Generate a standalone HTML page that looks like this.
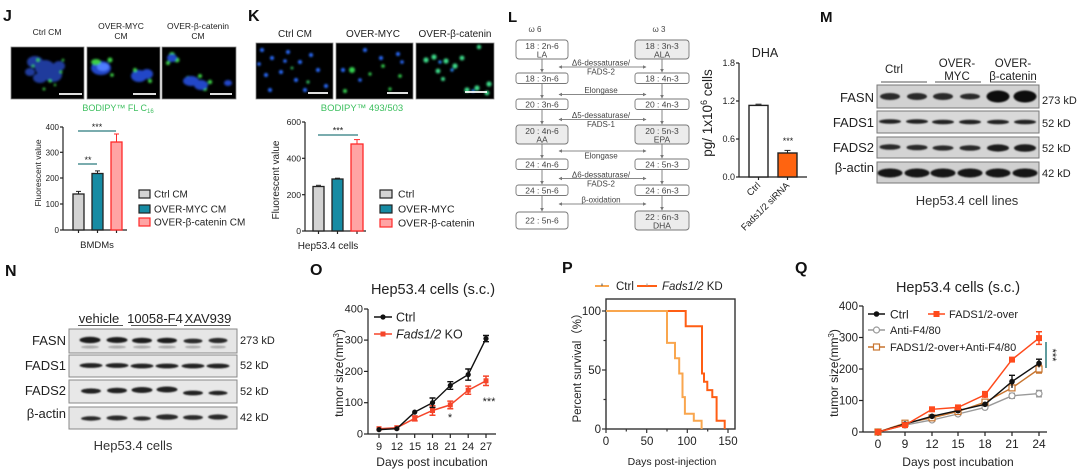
<!DOCTYPE html>
<html><head><meta charset="utf-8">
<style>
html,body{margin:0;padding:0;background:#fff;}
svg{display:block;font-family:"Liberation Sans","Noto Sans CJK SC",sans-serif;}
</style></head><body>
<svg width="1080" height="472" viewBox="0 0 1080 472" xmlns="http://www.w3.org/2000/svg">
<defs>
<filter id="bl" x="-50%" y="-50%" width="200%" height="200%"><feGaussianBlur stdDeviation="1.1"/></filter>
<filter id="bb" x="-30%" y="-100%" width="160%" height="300%"><feGaussianBlur stdDeviation="0.9"/></filter>
<marker id="ah" viewBox="0 0 6 6" refX="5" refY="3" markerWidth="4" markerHeight="4" orient="auto-start-reverse"><path d="M0,0 L6,3 L0,6 z" fill="#777"/></marker>
</defs>
<rect width="1080" height="472" fill="#fff"/>

<!-- ================= J ================= -->
<text x="3" y="21" font-size="16" font-weight="bold" fill="#111">J</text>
<g font-size="8.5" fill="#222" text-anchor="middle">
<text x="47" y="35">Ctrl  CM</text>
<text x="121" y="29">OVER-MYC</text><text x="121" y="39">CM</text>
<text x="198" y="29">OVER-β-catenin</text><text x="198" y="39">CM</text>
</g>
<rect x="11" y="47" width="73" height="52" fill="#000" stroke="#888" stroke-width="0.8"/>
<rect x="87" y="47" width="73" height="52" fill="#000" stroke="#888" stroke-width="0.8"/>
<rect x="162" y="47" width="74" height="52" fill="#000" stroke="#888" stroke-width="0.8"/>
<g filter="url(#bl)">
 <g fill="#2446b8" opacity="0.85">
  <ellipse cx="35" cy="62" rx="8" ry="6"/><ellipse cx="45" cy="68" rx="10" ry="8"/><ellipse cx="53" cy="75" rx="9" ry="7"/>
  <ellipse cx="40" cy="78" rx="7" ry="5"/><ellipse cx="59" cy="66" rx="6" ry="5"/><ellipse cx="30" cy="72" rx="5" ry="4"/>
 </g>
 <g fill="#3ccf44">
  <circle cx="38" cy="60" r="1.6"/><circle cx="50" cy="81" r="1.6"/><circle cx="61" cy="72" r="1.4"/><circle cx="44" cy="89" r="1.4"/>
  <circle cx="33" cy="66" r="1.3"/><circle cx="63" cy="60" r="1.3"/><circle cx="55" cy="85" r="1.2"/>
 </g>
 <g fill="#2446c8"><ellipse cx="101" cy="68" rx="10" ry="7"/><ellipse cx="139" cy="76" rx="8" ry="6"/><ellipse cx="147" cy="74" rx="6" ry="5"/></g>
 <ellipse cx="103" cy="67" rx="6" ry="4" fill="#4f7dff"/>
 <g fill="#3ccf44"><ellipse cx="96" cy="62" rx="5" ry="3"/><circle cx="110" cy="60" r="2.5"/><circle cx="135" cy="70" r="2"/><circle cx="150" cy="81" r="2"/><circle cx="112" cy="75" r="1.8"/></g>
 <g fill="#3ccf44"><circle cx="172" cy="55" r="3"/><circle cx="177" cy="60" r="2.5"/><circle cx="168" cy="63" r="2"/><circle cx="188" cy="78" r="2"/><circle cx="200" cy="76" r="2"/><circle cx="210" cy="82" r="2.2"/><circle cx="205" cy="89" r="2"/></g>
 <g fill="#2446c8"><ellipse cx="172" cy="58" rx="5" ry="4"/><ellipse cx="191" cy="81" rx="8" ry="5"/><ellipse cx="201" cy="85" rx="7" ry="5"/><ellipse cx="228" cy="83" rx="4" ry="3"/></g>
</g>
<g stroke="#fff" stroke-width="1.8">
<line x1="59" y1="94" x2="82" y2="94"/><line x1="133" y1="94" x2="156" y2="94"/><line x1="210" y1="94" x2="232" y2="94"/>
</g>
<text x="118" y="111" font-size="9" fill="#3cbf5e" text-anchor="middle">BODIPY™ FL C<tspan font-size="6" dy="2">16</tspan></text>
<!-- J chart -->
<g stroke="#222" stroke-width="1.2" fill="none">
<line x1="63" y1="127" x2="63" y2="230"/><line x1="63" y1="230" x2="127" y2="230"/>
<line x1="60" y1="127" x2="63" y2="127"/><line x1="60" y1="152.3" x2="63" y2="152.3"/><line x1="60" y1="178" x2="63" y2="178"/><line x1="60" y1="204" x2="63" y2="204"/><line x1="60" y1="230" x2="63" y2="230"/>
<line x1="78.5" y1="230" x2="78.5" y2="233"/><line x1="97.5" y1="230" x2="97.5" y2="233"/><line x1="116.5" y1="230" x2="116.5" y2="233"/>
</g>
<g font-size="8" fill="#222" text-anchor="end">
<text x="59" y="130">400</text><text x="59" y="155.5">300</text><text x="59" y="181">200</text><text x="59" y="207">100</text><text x="59" y="233">0</text>
</g>
<text transform="translate(41,173) rotate(-90)" font-size="8.5" fill="#222" text-anchor="middle">Fluorescent value</text>
<rect x="73" y="194" width="11" height="36" fill="#d3d3d3" stroke="#222" stroke-width="1.3"/>
<rect x="92" y="173.5" width="11" height="56.5" fill="#168ba3" stroke="#222" stroke-width="1.3"/>
<rect x="111" y="142" width="11" height="88" fill="#ffa4a4" stroke="#ff2a2a" stroke-width="1.3"/>
<g stroke="#222" stroke-width="1"><line x1="78.5" y1="194" x2="78.5" y2="191.4"/><line x1="76" y1="191.4" x2="81" y2="191.4"/>
<line x1="97.5" y1="173.5" x2="97.5" y2="170.9"/><line x1="95" y1="170.9" x2="100" y2="170.9"/></g>
<g stroke="#ff2a2a" stroke-width="1"><line x1="116.5" y1="142" x2="116.5" y2="134"/><line x1="114" y1="134" x2="119" y2="134"/></g>
<g stroke="#2b7a7e" stroke-width="1.2"><line x1="78" y1="131" x2="116" y2="131"/><line x1="78" y1="164" x2="97" y2="164"/></g>
<g font-size="9" fill="#222" text-anchor="middle"><text x="97" y="130">***</text><text x="88" y="163">**</text></g>
<rect x="139" y="190" width="11" height="8" fill="#d3d3d3" stroke="#222" stroke-width="1.2"/>
<rect x="139" y="205" width="11" height="8" fill="#168ba3" stroke="#222" stroke-width="1.2"/>
<rect x="139" y="218" width="11" height="8" fill="#ffa4a4" stroke="#ff2a2a" stroke-width="1.2"/>
<g font-size="10" fill="#222"><text x="154" y="197.5">Ctrl CM</text><text x="154" y="212.5">OVER-MYC CM</text><text x="154" y="225.5">OVER-β-catenin CM</text></g>
<text x="97" y="248" font-size="9.5" fill="#222" text-anchor="middle">BMDMs</text>

<!-- ================= K ================= -->
<text x="248" y="21" font-size="16" font-weight="bold" fill="#111">K</text>
<g font-size="10" fill="#222" text-anchor="middle">
<text x="295" y="37">Ctrl  CM</text><text x="373" y="37">OVER-MYC</text><text x="455" y="37">OVER-β-catenin</text>
</g>
<rect x="256" y="43" width="77" height="56" fill="#000" stroke="#888" stroke-width="0.8"/>
<rect x="336" y="43" width="77" height="56" fill="#000" stroke="#888" stroke-width="0.8"/>
<rect x="416" y="43" width="78" height="56" fill="#000" stroke="#888" stroke-width="0.8"/>
<g filter="url(#bl)">
 <g fill="#2a6cff">
  <circle cx="262" cy="50" r="2"/><circle cx="272" cy="58" r="2"/><circle cx="288" cy="52" r="2"/><circle cx="300" cy="62" r="2"/><circle cx="311" cy="55" r="2"/>
  <circle cx="266" cy="75" r="2"/><circle cx="281" cy="72" r="2"/><circle cx="296" cy="80" r="2"/><circle cx="318" cy="70" r="2"/><circle cx="270" cy="90" r="2"/>
  <circle cx="305" cy="90" r="2"/><circle cx="326" cy="86" r="2"/><circle cx="285" cy="61" r="1.8"/><circle cx="259" cy="64" r="1.8"/>
 </g>
 <g fill="#35c060"><circle cx="308" cy="82" r="1.6"/><circle cx="292" cy="68" r="1.4"/></g>
 <g fill="#2a6cff"><circle cx="365" cy="50" r="2"/><circle cx="381" cy="58" r="2"/><circle cx="398" cy="54" r="2"/><circle cx="343" cy="70" r="2"/><circle cx="360" cy="80" r="1.8"/><circle cx="402" cy="62" r="1.8"/></g>
 <g fill="#35d050"><circle cx="352" cy="70" r="3"/><circle cx="383" cy="66" r="1.8"/><circle cx="400" cy="76" r="1.8"/><circle cx="345" cy="91" r="2"/><circle cx="370" cy="74" r="1.6"/><circle cx="390" cy="89" r="1.6"/></g>
 <g fill="#3ddc8a">
  <circle cx="426" cy="60" r="2.6"/><circle cx="434" cy="57" r="2.6"/><circle cx="446" cy="61" r="2.6"/><circle cx="455" cy="66" r="2.6"/><circle cx="438" cy="71" r="2.4"/>
  <circle cx="462" cy="58" r="2.4"/><circle cx="479" cy="47" r="2.2"/><circle cx="467" cy="90" r="2.6"/><circle cx="477" cy="88" r="2.6"/><circle cx="489" cy="84" r="2.6"/><circle cx="487" cy="93" r="2.4"/><circle cx="443" cy="79" r="2"/>
 </g>
 <g fill="#2a8cff"><circle cx="440" cy="62" r="1.6"/><circle cx="452" cy="70" r="1.6"/><circle cx="473" cy="91" r="1.6"/></g>
</g>
<g stroke="#fff" stroke-width="1.8">
<line x1="308" y1="93" x2="328" y2="93"/><line x1="387" y1="93" x2="408" y2="93"/><line x1="465" y1="92" x2="487" y2="92"/>
</g>
<text x="362" y="111" font-size="9.5" fill="#3cbf5e" text-anchor="middle">BODIPY™ 493/503</text>
<g stroke="#222" stroke-width="1.2" fill="none">
<line x1="305" y1="122" x2="305" y2="231"/><line x1="305" y1="231" x2="366" y2="231"/>
<line x1="302" y1="122" x2="305" y2="122"/><line x1="302" y1="158.3" x2="305" y2="158.3"/><line x1="302" y1="194.7" x2="305" y2="194.7"/><line x1="302" y1="231" x2="305" y2="231"/>
<line x1="318.5" y1="231" x2="318.5" y2="234"/><line x1="337.5" y1="231" x2="337.5" y2="234"/><line x1="357" y1="231" x2="357" y2="234"/>
</g>
<g font-size="8.6" fill="#222" text-anchor="end">
<text x="301" y="125">600</text><text x="301" y="161.5">400</text><text x="301" y="198">200</text><text x="301" y="234">0</text>
</g>
<text transform="translate(279,180) rotate(-90)" font-size="10" fill="#222" text-anchor="middle">Fluorescent value</text>
<rect x="313" y="186.5" width="11" height="44.5" fill="#d3d3d3" stroke="#222" stroke-width="1.3"/>
<rect x="332" y="179" width="11" height="52" fill="#168ba3" stroke="#222" stroke-width="1.3"/>
<rect x="351" y="144" width="12" height="87" fill="#ffa4a4" stroke="#ff2a2a" stroke-width="1.3"/>
<g stroke="#222" stroke-width="1"><line x1="316" y1="185.3" x2="321" y2="185.3"/><line x1="335" y1="178.2" x2="340" y2="178.2"/></g>
<g stroke="#ff2a2a" stroke-width="1"><line x1="357" y1="144" x2="357" y2="139.6"/><line x1="354" y1="139.6" x2="360" y2="139.6"/></g>
<line x1="318" y1="135" x2="358" y2="135" stroke="#2b7a7e" stroke-width="1.2"/>
<text x="338" y="133.5" font-size="9" fill="#222" text-anchor="middle">***</text>
<rect x="380" y="190" width="12" height="8" fill="#d3d3d3" stroke="#222" stroke-width="1.2"/>
<rect x="380" y="205" width="12" height="8" fill="#168ba3" stroke="#222" stroke-width="1.2"/>
<rect x="380" y="219" width="12" height="8" fill="#ffa4a4" stroke="#ff2a2a" stroke-width="1.2"/>
<g font-size="10.5" fill="#222"><text x="398" y="197.5">Ctrl</text><text x="398" y="212.5">OVER-MYC</text><text x="398" y="226.5">OVER-β-catenin</text></g>
<text x="328" y="249" font-size="10" fill="#222" text-anchor="middle">Hep53.4 cells</text>

<!-- ================= L ================= -->
<text x="508" y="22" font-size="15" font-weight="bold" fill="#111">L</text>
<g font-size="8" fill="#444" text-anchor="middle"><text x="535" y="32">ω 6</text><text x="659" y="32">ω 3</text></g>
<g stroke="#777" stroke-width="0.9">
 <rect x="516" y="40" width="52" height="19" rx="3" fill="#fff"/>
 <rect x="516" y="73" width="52" height="10.5" rx="2.5" fill="#fff"/>
 <rect x="516" y="99" width="52" height="10.5" rx="2.5" fill="#fff"/>
 <rect x="516" y="125" width="52" height="19" rx="3" fill="#ececec"/>
 <rect x="516" y="159" width="52" height="10.5" rx="2.5" fill="#fff"/>
 <rect x="516" y="185" width="52" height="10.5" rx="2.5" fill="#fff"/>
 <rect x="516" y="212" width="52" height="17" rx="3" fill="#fff"/>
 <rect x="635" y="40" width="54" height="19" rx="3" fill="#ececec"/>
 <rect x="635" y="73" width="54" height="10.5" rx="2.5" fill="#fff"/>
 <rect x="635" y="99" width="54" height="10.5" rx="2.5" fill="#fff"/>
 <rect x="635" y="125" width="54" height="19" rx="3" fill="#ececec"/>
 <rect x="635" y="159" width="54" height="10.5" rx="2.5" fill="#fff"/>
 <rect x="635" y="185" width="54" height="10.5" rx="2.5" fill="#fff"/>
 <rect x="635" y="211" width="54" height="19" rx="3" fill="#ececec"/>
</g>
<g font-size="8.5" fill="#444" text-anchor="middle">
 <text x="542" y="49">18 : 2n-6</text><text x="542" y="57.5">LA</text>
 <text x="542" y="81.5">18 : 3n-6</text>
 <text x="542" y="107.5">20 : 3n-6</text>
 <text x="542" y="134">20 : 4n-6</text><text x="542" y="142.5">AA</text>
 <text x="542" y="167.5">24 : 4n-6</text>
 <text x="542" y="193.5">24 : 5n-6</text>
 <text x="542" y="223.5">22 : 5n-6</text>
 <text x="662" y="49">18 : 3n-3</text><text x="662" y="57.5">ALA</text>
 <text x="662" y="81.5">18 : 4n-3</text>
 <text x="662" y="107.5">20 : 4n-3</text>
 <text x="662" y="134">20 : 5n-3</text><text x="662" y="142.5">EPA</text>
 <text x="662" y="167.5">24 : 5n-3</text>
 <text x="662" y="193.5">24 : 6n-3</text>
 <text x="662" y="220">22 : 6n-3</text><text x="662" y="228.5">DHA</text>
</g>
<g stroke="#777" stroke-width="0.9" marker-end="url(#ah)">
 <line x1="542" y1="59" x2="542" y2="72"/><line x1="542" y1="83.5" x2="542" y2="98"/><line x1="542" y1="109.5" x2="542" y2="124"/>
 <line x1="542" y1="144" x2="542" y2="158"/><line x1="542" y1="169.5" x2="542" y2="184"/><line x1="542" y1="195.5" x2="542" y2="211"/>
 <line x1="662" y1="59" x2="662" y2="72"/><line x1="662" y1="83.5" x2="662" y2="98"/><line x1="662" y1="109.5" x2="662" y2="124"/>
 <line x1="662" y1="144" x2="662" y2="158"/><line x1="662" y1="169.5" x2="662" y2="184"/><line x1="662" y1="195.5" x2="662" y2="210"/>
</g>
<g stroke="#888" stroke-width="0.9" marker-start="url(#ah)" marker-end="url(#ah)">
 <line x1="559" y1="67" x2="646" y2="67"/><line x1="559" y1="94.5" x2="646" y2="94.5"/><line x1="559" y1="119.5" x2="646" y2="119.5"/>
 <line x1="559" y1="151" x2="646" y2="151"/><line x1="559" y1="178.5" x2="646" y2="178.5"/><line x1="559" y1="204" x2="646" y2="204"/>
</g>
<g font-size="8" fill="#444" text-anchor="middle">
 <text x="601" y="65.5">Δ6-dessaturase/</text><text x="601" y="74.5">FADS-2</text>
 <text x="601" y="93">Elongase</text>
 <text x="601" y="118">Δ5-dessaturase/</text><text x="601" y="127">FADS-1</text>
 <text x="601" y="158.5">Elongase</text>
 <text x="601" y="177.5">Δ6-dessaturase/</text><text x="601" y="186.5">FADS-2</text>
 <text x="601" y="202.5">β-oxidation</text>
</g>
<!-- DHA chart -->
<text x="765" y="57" font-size="12.5" fill="#222" text-anchor="middle">DHA</text>
<g stroke="#222" stroke-width="1.2" fill="none">
<line x1="739" y1="63" x2="739" y2="177"/><line x1="739" y1="177" x2="807" y2="177"/>
<line x1="736" y1="63" x2="739" y2="63"/><line x1="736" y1="101" x2="739" y2="101"/><line x1="736" y1="139" x2="739" y2="139"/><line x1="736" y1="177" x2="739" y2="177"/>
<line x1="758.5" y1="177" x2="758.5" y2="180"/><line x1="787.5" y1="177" x2="787.5" y2="180"/>
</g>
<g font-size="9" fill="#222" text-anchor="end"><text x="735" y="66">1.8</text><text x="735" y="104">1.2</text><text x="735" y="142">0.6</text><text x="735" y="180">0.0</text></g>
<text transform="translate(712,113) rotate(-90)" font-size="13.5" fill="#222" text-anchor="middle">pg/ 1x10<tspan font-size="9" dy="-5">6</tspan><tspan dy="5"> cells</tspan></text>
<rect x="749" y="105.4" width="19" height="71.6" fill="#fff" stroke="#222" stroke-width="1.4"/>
<line x1="755.5" y1="104.2" x2="761.5" y2="104.2" stroke="#222" stroke-width="1"/>
<rect x="778" y="153" width="19" height="24" fill="#ff6410" stroke="#222" stroke-width="1.4"/>
<g stroke="#222" stroke-width="1"><line x1="787.5" y1="153" x2="787.5" y2="150.4"/><line x1="784.5" y1="150.4" x2="790.5" y2="150.4"/></g>
<text x="788" y="144" font-size="9" fill="#222" text-anchor="middle">***</text>
<g font-size="9.5" fill="#222" text-anchor="end">
<text transform="translate(761,186) rotate(-45)">Ctrl</text>
<text transform="translate(790,186) rotate(-45)">Fads1/2 siRNA</text>
</g>

<!-- ================= M ================= -->
<text x="820" y="22" font-size="15" font-weight="bold" fill="#111">M</text>
<g font-size="11.5" fill="#222" text-anchor="middle">
<text x="894" y="73">Ctrl</text>
<text x="957" y="67">OVER-</text><text x="957" y="80">MYC</text>
<text x="1013" y="67">OVER-</text><text x="1013" y="80">β-catenin</text>
</g>
<g stroke="#555" stroke-width="1"><line x1="881" y1="82" x2="927" y2="82"/><line x1="935" y1="82" x2="981" y2="82"/><line x1="990" y1="82" x2="1036" y2="82"/></g>
<g stroke="#777" stroke-width="1">
<rect x="877" y="85" width="162" height="23" fill="#d2d2d2"/>
<rect x="877" y="111" width="162" height="22" fill="#d9d9d9"/>
<rect x="877" y="137" width="162" height="21" fill="#d4d4d4"/>
<rect x="877" y="162" width="162" height="21" fill="#d0d0d0"/>
</g>
<g filter="url(#bb)">
 <g fill="#2a2a2a"><ellipse cx="890" cy="96.5" rx="10" ry="3.5"/><ellipse cx="917" cy="96.5" rx="10" ry="3.5"/><ellipse cx="943" cy="96.5" rx="10" ry="3.5"/><ellipse cx="970" cy="96.5" rx="10" ry="3"/></g>
 <g fill="#111"><ellipse cx="998" cy="96.5" rx="11.5" ry="6"/><ellipse cx="1025" cy="96.5" rx="11.5" ry="6"/></g>
 <g fill="#222"><ellipse cx="890" cy="121.5" rx="11" ry="2.3"/><ellipse cx="917" cy="121.5" rx="11" ry="2.3"/><ellipse cx="943" cy="122" rx="11" ry="2.3"/><ellipse cx="970" cy="122" rx="11" ry="2.3"/><ellipse cx="998" cy="122" rx="11" ry="2.3"/><ellipse cx="1025" cy="122" rx="11" ry="2.3"/></g>
 <g fill="#2a2a2a"><ellipse cx="890" cy="147" rx="10.5" ry="2.8"/><ellipse cx="917" cy="147.5" rx="10.5" ry="2.8"/><ellipse cx="943" cy="148" rx="10.5" ry="2.6"/><ellipse cx="970" cy="148" rx="10.5" ry="2.8"/></g>
 <g fill="#1a1a1a"><ellipse cx="998" cy="148" rx="11" ry="3.6"/><ellipse cx="1025" cy="148" rx="11" ry="3.8"/></g>
 <g fill="#121212"><ellipse cx="890" cy="173" rx="12.5" ry="4.5"/><ellipse cx="917" cy="173" rx="12.5" ry="4.5"/><ellipse cx="943" cy="173" rx="12.5" ry="4.5"/><ellipse cx="970" cy="173" rx="12.5" ry="4.5"/><ellipse cx="998" cy="173" rx="12.5" ry="4.5"/><ellipse cx="1025" cy="173" rx="12.5" ry="4.5"/></g>
</g>
<g font-size="13" fill="#222" text-anchor="end">
<text x="874" y="102">FASN</text><text x="874" y="127">FADS1</text><text x="874" y="152">FADS2</text><text x="874" y="172">β-actin</text>
</g>
<g font-size="11" fill="#222">
<text x="1042" y="104">273 kD</text><text x="1042" y="127">52 kD</text><text x="1042" y="152">52 kD</text><text x="1042" y="177">42 kD</text>
</g>
<text x="967" y="205" font-size="13" fill="#333" text-anchor="middle">Hep53.4 cell lines</text>

<!-- ================= N ================= -->
<text x="5" y="276" font-size="16" font-weight="bold" fill="#111">N</text>
<g font-size="13" fill="#222" text-anchor="middle">
<text x="99" y="323">vehicle</text><text x="155" y="323">10058-F4</text><text x="208" y="323">XAV939</text>
</g>
<g stroke="#555" stroke-width="1"><line x1="78" y1="325.5" x2="123" y2="325.5"/><line x1="131" y1="325.5" x2="177" y2="325.5"/><line x1="184" y1="325.5" x2="230" y2="325.5"/></g>
<g stroke="#888" stroke-width="1">
<rect x="69" y="329" width="168" height="24" fill="#e6e6e6"/>
<rect x="69" y="355" width="168" height="22" fill="#e8e8e8"/>
<rect x="69" y="380" width="168" height="23" fill="#e8e8e8"/>
<rect x="69" y="407" width="168" height="22" fill="#e6e6e6"/>
</g>
<g filter="url(#bb)">
 <g fill="#aaa"><ellipse cx="90" cy="347" rx="9" ry="1.5"/><ellipse cx="117" cy="347" rx="9" ry="1.5"/><ellipse cx="142" cy="347" rx="9" ry="1.5"/><ellipse cx="167" cy="347" rx="9" ry="1.5"/><ellipse cx="193" cy="347" rx="8" ry="1.4"/><ellipse cx="218" cy="347" rx="8" ry="1.4"/></g>
 <g fill="#1e1e1e"><ellipse cx="90" cy="340" rx="10.5" ry="3.2"/><ellipse cx="117" cy="340" rx="10.5" ry="3"/><ellipse cx="142" cy="340.5" rx="10" ry="2.8"/><ellipse cx="167" cy="340.5" rx="10" ry="2.8"/></g>
 <g fill="#2c2c2c"><ellipse cx="193" cy="341" rx="9.5" ry="2.4"/><ellipse cx="218" cy="340.5" rx="9.5" ry="2.6"/></g>
 <g fill="#222"><ellipse cx="91" cy="365.5" rx="11.5" ry="2.4"/><ellipse cx="117" cy="365.5" rx="11.5" ry="2.4"/><ellipse cx="142" cy="366" rx="11.5" ry="2.4"/><ellipse cx="167" cy="366" rx="11.5" ry="2.4"/><ellipse cx="193" cy="366" rx="11.5" ry="2.4"/><ellipse cx="218" cy="366" rx="11.5" ry="2.4"/></g>
 <g fill="#222"><ellipse cx="91" cy="391" rx="10" ry="2.6"/><ellipse cx="117" cy="390.5" rx="10" ry="2.8"/><ellipse cx="142" cy="390" rx="10.5" ry="3"/><ellipse cx="167" cy="389.5" rx="10.5" ry="3"/><ellipse cx="193" cy="393" rx="10" ry="2.4"/><ellipse cx="218" cy="393" rx="9.5" ry="2.2"/></g>
 <g fill="#2a2a2a"><ellipse cx="91" cy="418.5" rx="10" ry="2.2"/><ellipse cx="117" cy="418" rx="10.5" ry="2.5"/><ellipse cx="142" cy="418.5" rx="9" ry="2.1"/><ellipse cx="167" cy="417" rx="11" ry="2.8"/><ellipse cx="193" cy="417.5" rx="10" ry="2.4"/><ellipse cx="218" cy="417" rx="10" ry="2.6"/></g>
</g>
<g font-size="13" fill="#222" text-anchor="end">
<text x="66" y="345">FASN</text><text x="66" y="370">FADS1</text><text x="66" y="395">FADS2</text><text x="66" y="418">β-actin</text>
</g>
<g font-size="11" fill="#222">
<text x="240" y="344">273 kD</text><text x="240" y="369">52 kD</text><text x="240" y="395">52 kD</text><text x="240" y="421">42 kD</text>
</g>
<text x="133" y="450" font-size="13" fill="#333" text-anchor="middle">Hep53.4 cells</text>

<!-- ================= O ================= -->
<text x="310" y="275" font-size="16" font-weight="bold" fill="#111">O</text>
<text x="433" y="294" font-size="14.5" fill="#222" text-anchor="middle">Hep53.4 cells (s.c.)</text>
<g stroke="#222" stroke-width="1.2" fill="none">
<line x1="368" y1="309" x2="368" y2="434"/><line x1="368" y1="434" x2="496" y2="434"/>
<line x1="364" y1="309" x2="368" y2="309"/><line x1="364" y1="340.1" x2="368" y2="340.1"/><line x1="364" y1="371.4" x2="368" y2="371.4"/><line x1="364" y1="402.7" x2="368" y2="402.7"/><line x1="364" y1="434" x2="368" y2="434"/>
<line x1="379" y1="434" x2="379" y2="438"/><line x1="396.8" y1="434" x2="396.8" y2="438"/><line x1="414.7" y1="434" x2="414.7" y2="438"/><line x1="432.5" y1="434" x2="432.5" y2="438"/><line x1="450.3" y1="434" x2="450.3" y2="438"/><line x1="468.2" y1="434" x2="468.2" y2="438"/><line x1="486" y1="434" x2="486" y2="438"/>
</g>
<g font-size="11" fill="#222" text-anchor="end">
<text x="363" y="312.5">400</text><text x="363" y="343.5">300</text><text x="363" y="375">200</text><text x="363" y="406">100</text><text x="363" y="437.5">0</text>
</g>
<g font-size="11" fill="#222" text-anchor="middle">
<text x="379" y="450">9</text><text x="397" y="450">12</text><text x="415" y="450">15</text><text x="432.5" y="450">18</text><text x="450.5" y="450">21</text><text x="468" y="450">24</text><text x="486" y="450">27</text>
</g>
<text x="432" y="466" font-size="12" fill="#222" text-anchor="middle">Days post incubation</text>
<text transform="translate(343,373) rotate(-90)" font-size="12" fill="#222" text-anchor="middle">tumor size(mm<tspan font-size="8" dy="-4">3</tspan><tspan dy="4">)</tspan></text>
<!-- Fads series -->
<g stroke="#f5452a" stroke-width="1.5" fill="none">
<polyline points="379,428.7 396.8,427.7 414.7,418.4 432.5,410.5 450.3,404.9 468.2,390.2 486,380.8"/>
<path d="M414.7,415.9V420.9M432.5,405.8V415.2M450.3,401.1V408.7M468.2,386.1V394.3M486,376.1V385.5M411.7,415.9h6M411.7,420.9h6M429.5,405.8h6M429.5,415.2h6M447.3,401.1h6M447.3,408.7h6M465.2,386.1h6M465.2,394.3h6M483,376.1h6M483,385.5h6"/>
</g>
<g fill="#f5452a">
<rect x="376.5" y="426.2" width="5" height="5"/><rect x="394.3" y="425.2" width="5" height="5"/><rect x="412.2" y="415.9" width="5" height="5"/><rect x="430" y="408" width="5" height="5"/><rect x="447.8" y="402.4" width="5" height="5"/><rect x="465.7" y="387.7" width="5" height="5"/><rect x="483.5" y="378.3" width="5" height="5"/>
</g>
<!-- Ctrl series -->
<g stroke="#111" stroke-width="1.4" fill="none">
<polyline points="379,429.6 396.8,428.7 414.7,412.1 432.5,402.7 450.3,385.5 468.2,374.6 486,338.6"/>
<path d="M432.5,398V407.4M450.3,381.7V389.3M468.2,369V380.2M486,335.5V341.7M429.5,398h6M429.5,407.4h6M447.3,381.7h6M447.3,389.3h6M465.2,369h6M465.2,380.2h6M483,335.5h6M483,341.7h6"/>
</g>
<g fill="#111">
<circle cx="379" cy="429.6" r="2.6"/><circle cx="396.8" cy="428.7" r="2.6"/><circle cx="414.7" cy="412.1" r="2.6"/><circle cx="432.5" cy="402.7" r="2.6"/><circle cx="450.3" cy="385.5" r="2.6"/><circle cx="468.2" cy="374.6" r="2.6"/><circle cx="486" cy="338.6" r="2.6"/>
</g>
<line x1="374" y1="317" x2="392" y2="317" stroke="#111" stroke-width="1.4"/><circle cx="383" cy="317" r="2.6" fill="#111"/>
<line x1="374" y1="334" x2="392" y2="334" stroke="#f5452a" stroke-width="1.5"/><rect x="380.5" y="331.5" width="5" height="5" fill="#f5452a"/>
<text x="396" y="321.5" font-size="12.5" fill="#222">Ctrl</text>
<text x="396" y="338.5" font-size="12.5" fill="#222"><tspan font-style="italic">Fads1/2</tspan> KO</text>
<text x="450" y="421" font-size="11" fill="#222" text-anchor="middle">*</text>
<text x="489" y="405" font-size="11" fill="#222" text-anchor="middle">***</text>

<!-- ================= P ================= -->
<text x="562" y="273" font-size="16" font-weight="bold" fill="#111">P</text>
<line x1="595" y1="286" x2="609" y2="286" stroke="#f9a64e" stroke-width="2"/><line x1="602" y1="283.5" x2="602" y2="286" stroke="#555" stroke-width="1"/>
<text x="616" y="290" font-size="11.5" fill="#222">Ctrl</text>
<line x1="637" y1="286" x2="657" y2="286" stroke="#ff5e14" stroke-width="2"/><line x1="647" y1="283.5" x2="647" y2="286" stroke="#999" stroke-width="1"/>
<text x="662" y="290" font-size="11.5" fill="#222"><tspan font-style="italic">Fads1/2</tspan> KD</text>
<rect x="606" y="299" width="129" height="130" fill="none" stroke="#333" stroke-width="1.4"/>
<g stroke="#333" stroke-width="1.2">
<line x1="602" y1="311" x2="606" y2="311"/><line x1="602" y1="370" x2="606" y2="370"/><line x1="602" y1="429" x2="606" y2="429"/>
<line x1="603.5" y1="340.5" x2="606" y2="340.5"/><line x1="603.5" y1="399.5" x2="606" y2="399.5"/>
<line x1="606" y1="429" x2="606" y2="433"/><line x1="646.7" y1="429" x2="646.7" y2="433"/><line x1="687.3" y1="429" x2="687.3" y2="433"/><line x1="728" y1="429" x2="728" y2="433"/>
<line x1="626.3" y1="429" x2="626.3" y2="431.5"/><line x1="667" y1="429" x2="667" y2="431.5"/><line x1="707.7" y1="429" x2="707.7" y2="431.5"/>
</g>
<g font-size="11.5" fill="#222" text-anchor="end"><text x="601" y="315">100</text><text x="601" y="374">50</text><text x="601" y="433">0</text></g>
<g font-size="11.5" fill="#222" text-anchor="middle"><text x="606" y="445">0</text><text x="647" y="445">50</text><text x="687" y="445">100</text><text x="728" y="445">150</text></g>
<text x="672" y="465" font-size="10.5" fill="#222" text-anchor="middle">Days post-injection</text>
<text transform="translate(581,365) rotate(-90)" font-size="11.5" fill="#222" text-anchor="middle">Percent survival（%）</text>
<path d="M606,311 H685.7 V326.3 H702 V373.5 H704 V381.8 H707.3 V390.1 H712.3 V397.1 H716.6 V420.7 H724.7 V429" fill="none" stroke="#ff5e14" stroke-width="2"/>
<path d="M606,311 H667 V342.9 H675 V358.2 H679.2 V373.5 H682.5 V397.1 H684.9 V413.7 H693.8 V420.7 H701.6 V429" fill="none" stroke="#f9a64e" stroke-width="2"/>

<!-- ================= Q ================= -->
<text x="795" y="273" font-size="16" font-weight="bold" fill="#111">Q</text>
<text x="958" y="292" font-size="14.5" fill="#222" text-anchor="middle">Hep53.4 cells (s.c.)</text>
<g stroke="#222" stroke-width="1.2" fill="none">
<line x1="863" y1="306" x2="863" y2="432"/><line x1="863" y1="432" x2="1047" y2="432"/>
<line x1="859" y1="306" x2="863" y2="306"/><line x1="859" y1="337.5" x2="863" y2="337.5"/><line x1="859" y1="369" x2="863" y2="369"/><line x1="859" y1="400.5" x2="863" y2="400.5"/><line x1="859" y1="432" x2="863" y2="432"/>
<line x1="878" y1="432" x2="878" y2="436"/><line x1="905" y1="432" x2="905" y2="436"/><line x1="932" y1="432" x2="932" y2="436"/><line x1="958" y1="432" x2="958" y2="436"/><line x1="985" y1="432" x2="985" y2="436"/><line x1="1012" y1="432" x2="1012" y2="436"/><line x1="1039" y1="432" x2="1039" y2="436"/>
</g>
<g font-size="11.5" fill="#222" text-anchor="end">
<text x="858" y="310">400</text><text x="858" y="341.5">300</text><text x="858" y="373">200</text><text x="858" y="404.5">100</text><text x="858" y="436">0</text>
</g>
<g font-size="12" fill="#222" text-anchor="middle">
<text x="878" y="448">0</text><text x="905" y="448">9</text><text x="932" y="448">12</text><text x="958" y="448">15</text><text x="985" y="448">18</text><text x="1012" y="448">21</text><text x="1039" y="448">24</text>
</g>
<text x="958" y="466" font-size="12" fill="#222" text-anchor="middle">Days post incubation</text>
<text transform="translate(838,373) rotate(-90)" font-size="12" fill="#222" text-anchor="middle">tumor size(mm<tspan font-size="8" dy="-4">3</tspan><tspan dy="4">)</tspan></text>
<!-- Anti (gray) -->
<g stroke="#999" stroke-width="1.4" fill="none">
<polyline points="878,432 905,425.1 932,420 958,414 985,407.4 1012,395.8 1039,393.6"/>
<path d="M1012,393.3V398.3M1039,390.4V396.8M1009,393.3h6M1009,398.3h6M1036,390.4h6M1036,396.8h6"/>
</g>
<g stroke="#999" stroke-width="1.2" fill="#fff">
<circle cx="878" cy="432" r="3"/><circle cx="905" cy="425.1" r="3"/><circle cx="932" cy="420" r="3"/><circle cx="958" cy="414" r="3"/><circle cx="985" cy="407.4" r="3"/><circle cx="1012" cy="395.8" r="3"/><circle cx="1039" cy="393.6" r="3"/>
</g>
<!-- Combined (brown) -->
<g stroke="#c7742f" stroke-width="1.4" fill="none">
<polyline points="878,432 905,423.2 932,417.8 958,411.5 985,402.1 1012,387.9 1039,369"/>
<path d="M985,399.6V404.6M1012,385.4V390.4M1039,364.9V373.1M982,399.6h6M1009,385.4h6M1009,390.4h6M1036,364.9h6M1036,373.1h6"/>
</g>
<g stroke="#c7742f" stroke-width="1.2" fill="#fff">
<rect x="875" y="429" width="6" height="6"/><rect x="902" y="420.2" width="6" height="6"/><rect x="929" y="414.8" width="6" height="6"/><rect x="955" y="408.5" width="6" height="6"/><rect x="982" y="399.1" width="6" height="6"/><rect x="1009" y="384.9" width="6" height="6"/><rect x="1036" y="366" width="6" height="6"/>
</g>
<!-- Ctrl (black) -->
<g stroke="#111" stroke-width="1.4" fill="none">
<polyline points="878,432 905,424.1 932,416.3 958,410.6 985,404.3 1012,381.6 1039,363.3"/>
<path d="M1012,375.3V387.9M1039,359.2V367.4M1009,375.3h6M1036,359.2h6"/>
</g>
<g fill="#111">
<circle cx="878" cy="432" r="2.8"/><circle cx="905" cy="424.1" r="2.8"/><circle cx="932" cy="416.3" r="2.8"/><circle cx="958" cy="410.6" r="2.8"/><circle cx="985" cy="404.3" r="2.8"/><circle cx="1012" cy="381.6" r="2.8"/><circle cx="1039" cy="363.3" r="2.8"/>
</g>
<!-- FADS over (red) -->
<g stroke="#ff4a1c" stroke-width="1.5" fill="none">
<polyline points="878,432 905,425.1 932,409.3 958,407.4 985,394.8 1012,359.6 1039,338.1"/>
<path d="M985,391.6V398M1039,331.8V344.4M982,391.6h6M1036,331.8h6M1036,344.4h6"/>
</g>
<g fill="#ff4a1c">
<rect x="875" y="429" width="6" height="6"/><rect x="902" y="422.1" width="6" height="6"/><rect x="929" y="406.3" width="6" height="6"/><rect x="955" y="404.4" width="6" height="6"/><rect x="982" y="391.8" width="6" height="6"/><rect x="1009" y="356.6" width="6" height="6"/><rect x="1036" y="335.1" width="6" height="6"/>
</g>
<!-- Q legend -->
<line x1="868" y1="314" x2="885" y2="314" stroke="#111" stroke-width="1.4"/><circle cx="876.5" cy="314" r="2.8" fill="#111"/>
<text x="890" y="318.5" font-size="12" fill="#222">Ctrl</text>
<line x1="928" y1="314" x2="945" y2="314" stroke="#ff4a1c" stroke-width="1.5"/><rect x="933.5" y="311" width="6" height="6" fill="#ff4a1c"/>
<text x="949" y="318" font-size="11" fill="#222">FADS1/2-over</text>
<line x1="868" y1="330" x2="885" y2="330" stroke="#999" stroke-width="1.4"/><circle cx="876.5" cy="330" r="3" fill="#fff" stroke="#999" stroke-width="1.2"/>
<text x="890" y="334" font-size="11" fill="#222">Anti-F4/80</text>
<line x1="868" y1="347" x2="885" y2="347" stroke="#c7742f" stroke-width="1.4"/><rect x="873.5" y="344" width="6" height="6" fill="#fff" stroke="#c7742f" stroke-width="1.2"/>
<text x="890" y="351" font-size="11" fill="#222">FADS1/2-over+Anti-F4/80</text>
<line x1="1046" y1="342" x2="1046" y2="368" stroke="#2b7a7e" stroke-width="1.5"/>
<text transform="translate(1049,355) rotate(90)" font-size="11" fill="#222" text-anchor="middle">***</text>
</svg>
</body></html>
